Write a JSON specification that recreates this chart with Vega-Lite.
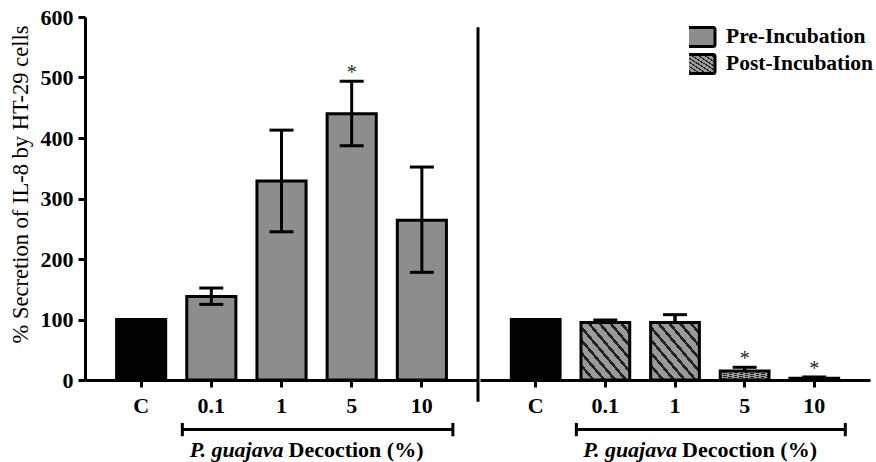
{
  "$schema": "https://vega.github.io/schema/vega-lite/v6.json",
  "autosize": {"type": "pad"},
  "padding": {"left": 9, "top": 6, "right": 0, "bottom": 0},
  "background": "white",
  "spacing": 0,
  "config": {
    "font": "Liberation Serif",
    "view": {"stroke": null},
    "axis": {
      "domainColor": "black", "domainWidth": 3, "tickColor": "black", "tickWidth": 3,
      "labelColor": "black", "labelFont": "Liberation Serif", "labelFontWeight": "bold", "labelFontSize": 22,
      "titleColor": "black", "titleFont": "Liberation Serif", "grid": false
    },
    "legend": {
      "orient": "none", "legendX": 604, "legendY": 8, "title": null, "padding": 0,
      "symbolType": "M-1.25,-0.95H1.25A0.2,0.2 0 0 1 1.45,-0.75V0.75A0.2,0.2 0 0 1 1.25,0.95H-1.25A0.2,0.2 0 0 1 -1.45,0.75V-0.75A0.2,0.2 0 0 1 -1.25,-0.95Z",
      "symbolSize": 400, "symbolStrokeColor": "black", "symbolStrokeWidth": 3,
      "labelFont": "Liberation Serif", "labelFontWeight": "bold", "labelFontSize": 21.5, "labelColor": "black",
      "labelOffset": 14, "rowPadding": 3, "clipHeight": 24
    }
  },
  "data": {"values": [
    {"group": "Pre-Incubation", "dose": "C", "mean": 100, "lo": null, "hi": null, "sig": false},
    {"group": "Pre-Incubation", "dose": "0.1", "mean": 138, "lo": 125, "hi": 152, "sig": false},
    {"group": "Pre-Incubation", "dose": "1", "mean": 329, "lo": 245, "hi": 413, "sig": false},
    {"group": "Pre-Incubation", "dose": "5", "mean": 440, "lo": 387, "hi": 494, "sig": true},
    {"group": "Pre-Incubation", "dose": "10", "mean": 264, "lo": 178, "hi": 352, "sig": false},
    {"group": "Post-Incubation", "dose": "C", "mean": 100, "lo": null, "hi": null, "sig": false},
    {"group": "Post-Incubation", "dose": "0.1", "mean": 95, "lo": 91, "hi": 99, "sig": false},
    {"group": "Post-Incubation", "dose": "1", "mean": 95, "lo": 83, "hi": 108, "sig": false},
    {"group": "Post-Incubation", "dose": "5", "mean": 15, "lo": 9, "hi": 21, "sig": true},
    {"group": "Post-Incubation", "dose": "10", "mean": 3, "lo": 1, "hi": 5, "sig": true}
  ]},
  "resolve": {"scale": {"fill": "shared"}, "legend": {"fill": "shared"}},
  "hconcat": [
    {
      "width": 393, "height": 363,
      "transform": [{"filter": "datum.group === 'Pre-Incubation'"}],
      "encoding": {
        "x": {"field": "dose", "type": "ordinal", "sort": ["C", "0.1", "1", "5", "10"],
              "scale": {"paddingInner": 0.3, "paddingOuter": 0.45},
              "axis": {"title": null, "labelAngle": 0, "tickSize": 7, "labelPadding": 8}}
      },
      "layer": [
        {
          "transform": [{"filter": "datum.dose === 'C'"}],
          "mark": {"type": "bar", "fill": "black", "stroke": "black", "strokeWidth": 3},
          "encoding": {"y": {"field": "mean", "type": "quantitative", "scale": {"domain": [0, 600], "nice": false},
            "axis": {"values": [0, 100, 200, 300, 400, 500, 600], "tickSize": 7, "labelPadding": 5,
                     "title": "% Secretion of IL-8 by HT-29 cells", "titleFontSize": 22.5, "titleFontWeight": "normal", "titlePadding": 8, "titleY": 167}}}
        },
        {
          "transform": [{"filter": "datum.dose !== 'C'"}],
          "mark": {"type": "bar", "stroke": "black", "strokeWidth": 3},
          "encoding": {
            "y": {"field": "mean", "type": "quantitative"},
            "fill": {"field": "group", "type": "nominal",
              "scale": {"domain": ["Pre-Incubation", "Post-Incubation"],
                "range": ["#8d8d8d", {"expr": "{gradient: 'linear', x1: 0, y1: 1, x2: 1, y2: 0, stops: [{offset: 0, color: '#222'}, {offset: 0.035, color: '#222'}, {offset: 0.035, color: '#9a9a9a'}, {offset: 0.111, color: '#9a9a9a'}, {offset: 0.111, color: '#222'}, {offset: 0.146, color: '#222'}, {offset: 0.146, color: '#9a9a9a'}, {offset: 0.222, color: '#9a9a9a'}, {offset: 0.222, color: '#222'}, {offset: 0.257, color: '#222'}, {offset: 0.257, color: '#9a9a9a'}, {offset: 0.333, color: '#9a9a9a'}, {offset: 0.333, color: '#222'}, {offset: 0.368, color: '#222'}, {offset: 0.368, color: '#9a9a9a'}, {offset: 0.444, color: '#9a9a9a'}, {offset: 0.444, color: '#222'}, {offset: 0.479, color: '#222'}, {offset: 0.479, color: '#9a9a9a'}, {offset: 0.556, color: '#9a9a9a'}, {offset: 0.556, color: '#222'}, {offset: 0.591, color: '#222'}, {offset: 0.591, color: '#9a9a9a'}, {offset: 0.667, color: '#9a9a9a'}, {offset: 0.667, color: '#222'}, {offset: 0.702, color: '#222'}, {offset: 0.702, color: '#9a9a9a'}, {offset: 0.778, color: '#9a9a9a'}, {offset: 0.778, color: '#222'}, {offset: 0.813, color: '#222'}, {offset: 0.813, color: '#9a9a9a'}, {offset: 0.889, color: '#9a9a9a'}, {offset: 0.889, color: '#222'}, {offset: 0.924, color: '#222'}, {offset: 0.924, color: '#9a9a9a'}, {offset: 1, color: '#9a9a9a'}]}"}]}}
          }
        },
        {
          "transform": [{"filter": "isValid(datum.lo)"}],
          "mark": {"type": "rule", "color": "black", "strokeWidth": 3},
          "encoding": {"y": {"field": "lo", "type": "quantitative"}, "y2": {"field": "hi"}}
        },
        {
          "transform": [{"filter": "isValid(datum.lo)"}],
          "mark": {"type": "tick", "orient": "horizontal", "color": "black", "size": 24, "thickness": 3, "opacity": 1},
          "encoding": {"y": {"field": "hi", "type": "quantitative"}}
        },
        {
          "transform": [{"filter": "isValid(datum.lo)"}],
          "mark": {"type": "tick", "orient": "horizontal", "color": "black", "size": 24, "thickness": 3, "opacity": 1},
          "encoding": {"y": {"field": "lo", "type": "quantitative"}}
        },
        {
          "transform": [{"filter": "datum.sig"}],
          "mark": {"type": "text", "text": "*", "fontSize": 20, "color": "#222", "baseline": "alphabetic", "dy": -2},
          "encoding": {"y": {"field": "hi", "type": "quantitative"}}
        },
        {
          "data": {"values": [{}]},
          "mark": {"type": "rule", "color": "black", "strokeWidth": 3},
          "encoding": {"x": {"value": "width"}, "y": {"datum": 583, "type": "quantitative"}, "y2": {"datum": -36}}
        },
        {
          "data": {"values": [{}]},
          "mark": {"type": "rule", "color": "black", "strokeWidth": 3, "xOffset": -29, "x2Offset": 31},
          "encoding": {"x": {"datum": "0.1", "type": "ordinal"}, "x2": {"datum": "10"}, "y": {"datum": -82, "type": "quantitative"}}
        },
        {
          "data": {"values": [{}]},
          "mark": {"type": "rule", "color": "black", "strokeWidth": 3, "xOffset": -29},
          "encoding": {"x": {"datum": "0.1", "type": "ordinal"}, "y": {"datum": -71, "type": "quantitative"}, "y2": {"datum": -93}}
        },
        {
          "data": {"values": [{}]},
          "mark": {"type": "rule", "color": "black", "strokeWidth": 3, "xOffset": 31},
          "encoding": {"x": {"datum": "10", "type": "ordinal"}, "y": {"datum": -71, "type": "quantitative"}, "y2": {"datum": -93}}
        },
        {
          "data": {"values": [{}]},
          "mark": {"type": "text", "text": "P. guajava", "fontSize": 22, "fontWeight": "bold", "fontStyle": "italic", "align": "right", "baseline": "middle", "dx": 2, "color": "black"},
          "encoding": {"x": {"datum": "1", "type": "ordinal"}, "y": {"datum": -116, "type": "quantitative"}}
        },
        {
          "data": {"values": [{}]},
          "mark": {"type": "text", "text": "Decoction (%)", "fontSize": 22, "fontWeight": "bold", "align": "left", "baseline": "middle", "dx": 7, "color": "black"},
          "encoding": {"x": {"datum": "1", "type": "ordinal"}, "y": {"datum": -116, "type": "quantitative"}}
        }
      ]
    },
    {
      "width": 390, "height": 363,
      "transform": [{"filter": "datum.group === 'Post-Incubation'"}],
      "encoding": {
        "x": {"field": "dose", "type": "ordinal", "sort": ["C", "0.1", "1", "5", "10"],
              "scale": {"paddingInner": 0.3, "paddingOuter": 0.45},
              "axis": {"title": null, "labelAngle": 0, "tickSize": 7, "labelPadding": 8}}
      },
      "layer": [
        {
          "transform": [{"filter": "datum.dose === 'C'"}],
          "mark": {"type": "bar", "fill": "black", "stroke": "black", "strokeWidth": 3},
          "encoding": {"y": {"field": "mean", "type": "quantitative", "scale": {"domain": [0, 600], "nice": false}, "axis": null}}
        },
        {
          "transform": [{"filter": "isValid(datum.lo)"}],
          "mark": {"type": "rule", "color": "black", "strokeWidth": 3},
          "encoding": {"y": {"field": "lo", "type": "quantitative"}, "y2": {"field": "hi"}}
        },
        {
          "transform": [{"filter": "isValid(datum.lo)"}],
          "mark": {"type": "tick", "orient": "horizontal", "color": "black", "size": 24, "thickness": 3, "opacity": 1},
          "encoding": {"y": {"field": "lo", "type": "quantitative"}}
        },
        {
          "transform": [{"filter": "datum.dose !== 'C'"}],
          "mark": {"type": "bar", "stroke": "black", "strokeWidth": 3},
          "encoding": {
            "y": {"field": "mean", "type": "quantitative"},
            "fill": {"field": "group", "type": "nominal"}
          }
        },
        {
          "transform": [{"filter": "isValid(datum.lo)"}],
          "mark": {"type": "rule", "color": "black", "strokeWidth": 3},
          "encoding": {"y": {"field": "mean", "type": "quantitative"}, "y2": {"field": "hi"}}
        },
        {
          "transform": [{"filter": "isValid(datum.lo)"}],
          "mark": {"type": "tick", "orient": "horizontal", "color": "black", "size": 24, "thickness": 3, "opacity": 1},
          "encoding": {"y": {"field": "hi", "type": "quantitative"}}
        },
        {
          "transform": [{"filter": "datum.sig"}],
          "mark": {"type": "text", "text": "*", "fontSize": 20, "color": "#222", "baseline": "alphabetic", "dy": -2},
          "encoding": {"y": {"field": "hi", "type": "quantitative"}}
        },
        {
          "data": {"values": [{}]},
          "mark": {"type": "rule", "color": "black", "strokeWidth": 3, "xOffset": -29, "x2Offset": 31},
          "encoding": {"x": {"datum": "0.1", "type": "ordinal"}, "x2": {"datum": "10"}, "y": {"datum": -82, "type": "quantitative"}}
        },
        {
          "data": {"values": [{}]},
          "mark": {"type": "rule", "color": "black", "strokeWidth": 3, "xOffset": -29},
          "encoding": {"x": {"datum": "0.1", "type": "ordinal"}, "y": {"datum": -71, "type": "quantitative"}, "y2": {"datum": -93}}
        },
        {
          "data": {"values": [{}]},
          "mark": {"type": "rule", "color": "black", "strokeWidth": 3, "xOffset": 31},
          "encoding": {"x": {"datum": "10", "type": "ordinal"}, "y": {"datum": -71, "type": "quantitative"}, "y2": {"datum": -93}}
        },
        {
          "data": {"values": [{}]},
          "mark": {"type": "text", "text": "P. guajava", "fontSize": 22, "fontWeight": "bold", "fontStyle": "italic", "align": "right", "baseline": "middle", "dx": 2, "color": "black"},
          "encoding": {"x": {"datum": "1", "type": "ordinal"}, "y": {"datum": -116, "type": "quantitative"}}
        },
        {
          "data": {"values": [{}]},
          "mark": {"type": "text", "text": "Decoction (%)", "fontSize": 22, "fontWeight": "bold", "align": "left", "baseline": "middle", "dx": 7, "color": "black"},
          "encoding": {"x": {"datum": "1", "type": "ordinal"}, "y": {"datum": -116, "type": "quantitative"}}
        }
      ]
    }
  ]
}
